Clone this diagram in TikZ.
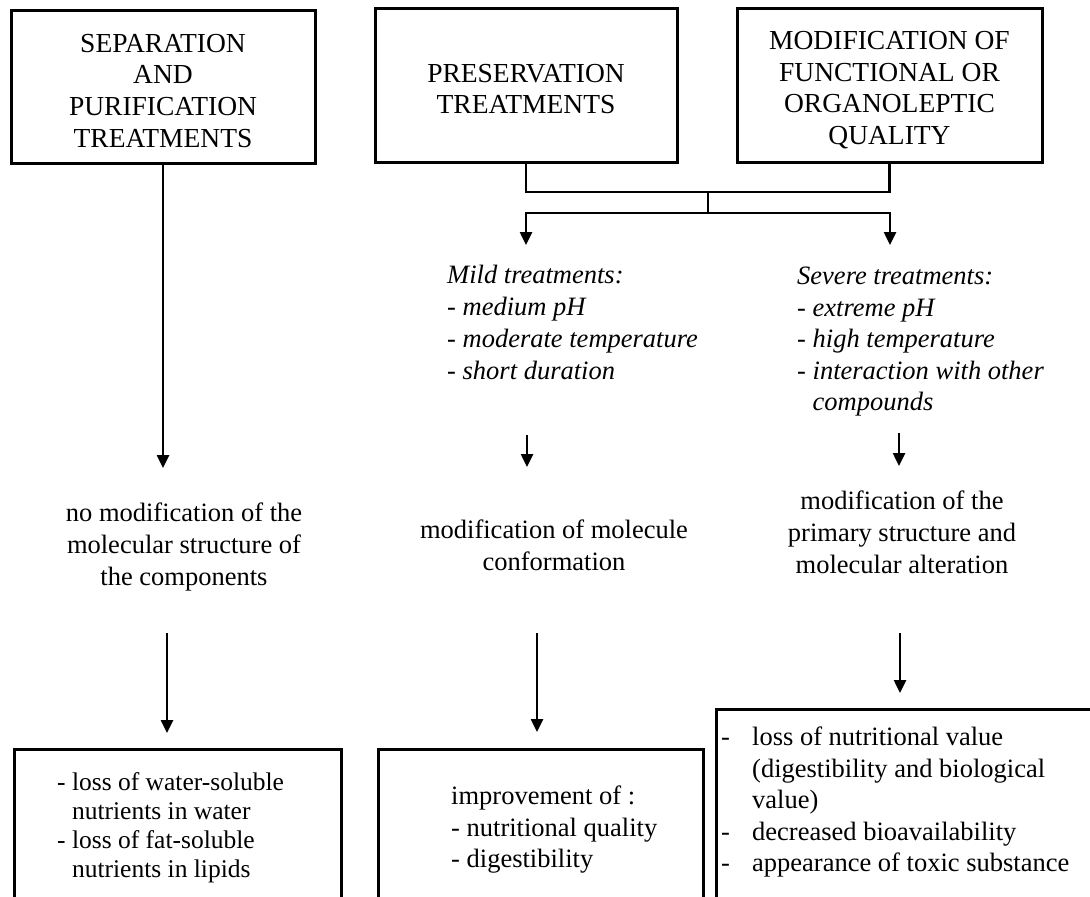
\documentclass[tikz,border=0pt]{standalone}
\usepackage{fontspec}
\setmainfont{Liberation Serif}
\usetikzlibrary{arrows.meta}
\begin{document}
\begin{tikzpicture}[x=1pt,y=-1pt,
  hdr/.style={draw, line width=3pt, align=center, inner sep=0pt,
    font=\fontsize{27.5}{31.7}\selectfont},
  obox/.style={draw, line width=3pt, inner sep=0pt},
  body/.style={inner sep=0pt, font=\fontsize{26.5}{32}\selectfont},
  bodysm/.style={inner sep=0pt, font=\fontsize{25.5}{29}\selectfont},
  ital/.style={inner sep=0pt, align=left, font=\fontsize{26.5}{32}\selectfont\itshape},
  conn/.style={line width=2.5pt},
  arr/.style={line width=2.5pt, -{Triangle[length=13pt,width=12pt]}}]
\useasboundingbox (0,0) rectangle (1090,897);
\clip (0,0) rectangle (1090,897);

% top boxes
\node[hdr, minimum width=304pt, minimum height=153pt] (b1) at (163,86.5)
  {\rule{0pt}{26.5pt}SEPARATION\\AND\\PURIFICATION\\TREATMENTS};
\node[hdr, minimum width=302pt, minimum height=154pt] (b2) at (526,85)
  {\rule{0pt}{26.5pt}PRESERVATION\\TREATMENTS};
\node[hdr, minimum width=305pt, minimum height=154pt] (b3) at (889.5,85)
  {\rule{0pt}{28.5pt}MODIFICATION OF\\FUNCTIONAL OR\\ORGANOLEPTIC\\QUALITY};

% treatment blocks
\node[ital, anchor=west] (mild) at (447,322.5)
  {Mild treatments:\\- medium pH\\- moderate temperature\\- short duration};
\node[ital, anchor=west, font=\fontsize{26.5}{31.5}\selectfont\itshape] (sev) at (797,342)
  {Severe treatments:\\- extreme pH\\- high temperature\\- interaction with other\\\phantom{- }compounds};

% middle texts
\node[body, align=center] (nomod) at (184,546.5)
  {no modification of the\\molecular structure of\\the components};
\node[body, align=center] (modconf) at (554,545)
  {modification of molecule\\conformation};
\node[body, align=center] (modprim) at (902,532)
  {modification of the\\primary structure and\\molecular alteration};

% bottom boxes
\node[obox, anchor=north west, minimum width=327pt, minimum height=170pt] (b4) at (13,748) {};
\node[obox, anchor=north west, minimum width=325pt, minimum height=170pt] (b5) at (377,748) {};
\node[obox, anchor=north west, minimum width=390pt, minimum height=210pt] (b6) at (715,708) {};

\node[bodysm, align=left, anchor=west] (t4) at (57,827.5)
  {- loss of water-soluble\\\phantom{- }nutrients in water\\- loss of fat-soluble\\\phantom{- }nutrients in lipids};
\node[body, align=left, anchor=west, font=\fontsize{26.5}{31.5}\selectfont] (t5) at (451,830)
  {improvement of :\\- nutritional quality\\- digestibility};
\node[body, align=left, anchor=west, font=\fontsize{26.5}{31.5}\selectfont] (t6) at (721,802)
  {\makebox[31pt][l]{-}loss of nutritional value\\
   \hspace*{31pt}(digestibility and biological\\
   \hspace*{31pt}value)\\
   \makebox[31pt][l]{-}decreased bioavailability\\
   \makebox[31pt][l]{-}appearance of toxic substance};

% connectors
\coordinate (a1) at (163,468);
\draw[arr] (b1.south) -- (a1);
\coordinate (j1) at (708,192);
\coordinate (j2) at (708,213);
\draw[conn] (b2.south) |- (j1) -| (b3.south);
\draw[conn] (j1) -- (j2);
\coordinate (m1) at (526,245);
\coordinate (s1) at (890,245);
\draw[arr] (j2) -| (m1);
\draw[arr] (j2) -| (s1);

\coordinate (sm1a) at (527,435); \coordinate (sm1b) at (527,467);
\coordinate (sm2a) at (899,433); \coordinate (sm2b) at (899,466);
\draw[arr] (sm1a) -- (sm1b);
\draw[arr] (sm2a) -- (sm2b);

\coordinate (ba1) at (167,633); \coordinate (bb1) at (167,733);
\coordinate (ba2) at (537,633); \coordinate (bb2) at (537,732);
\coordinate (ba3) at (900,633); \coordinate (bb3) at (900,693);
\draw[arr] (ba1) -- (bb1);
\draw[arr] (ba2) -- (bb2);
\draw[arr] (ba3) -- (bb3);
\end{tikzpicture}
\end{document}
